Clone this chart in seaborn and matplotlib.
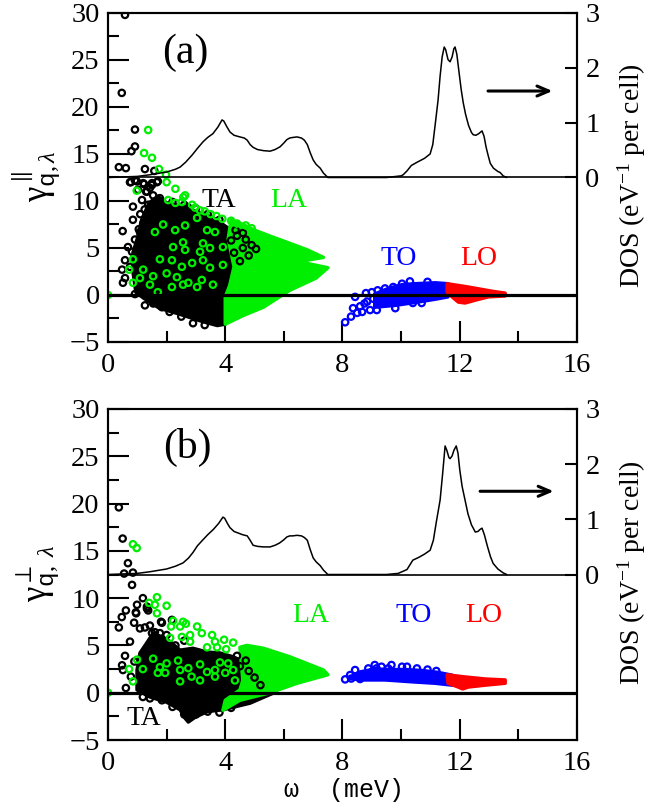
import numpy as np
import pandas as pd
import matplotlib
matplotlib.use("Agg")
import matplotlib.pyplot as plt
from matplotlib.ticker import MultipleLocator, NullLocator
import seaborn as sns

# ---------------- data ----------------
# phonon DOS (right axis), panel (a)
dos_a_w = [0.0, 0.5, 1.0, 1.43, 2.0, 2.3, 2.46, 2.65, 2.87, 3.05, 3.24, 3.4, 3.58, 3.75, 3.89,
           3.95, 4.05, 4.16, 4.3, 4.5, 4.65, 4.75, 4.85, 4.95, 5.1, 5.3, 5.53, 5.7, 5.87, 6.0,
           6.1, 6.2, 6.3, 6.45, 6.6, 6.7, 6.8, 6.9, 7.0, 7.1, 7.24, 7.35, 7.5, 8.5, 9.5, 10.0,
           10.07, 10.2, 10.35, 10.55, 10.8, 10.99, 11.08, 11.17, 11.26, 11.33, 11.4, 11.47,
           11.52, 11.6, 11.67, 11.74, 11.8, 11.84, 11.9, 11.98, 12.05, 12.12, 12.2, 12.3, 12.4,
           12.46, 12.55, 12.65, 12.76, 12.83, 12.9, 12.97, 13.04, 13.15, 13.3, 13.38, 13.48, 13.6]
dos_a_v = [0.0, 0.01, 0.02, 0.05, 0.1, 0.15, 0.19, 0.28, 0.41, 0.53, 0.65, 0.73, 0.8, 0.92, 1.05,
           1.03, 0.93, 0.83, 0.77, 0.74, 0.72, 0.68, 0.6, 0.55, 0.51, 0.49, 0.48, 0.51, 0.56, 0.63,
           0.69, 0.72, 0.73, 0.74, 0.72, 0.68, 0.6, 0.45, 0.32, 0.24, 0.17, 0.08, 0.0, 0.0, 0.0, 0.03,
           0.05, 0.12, 0.22, 0.28, 0.35, 0.43, 0.6, 1.0, 1.41, 1.85, 2.2, 2.38,
           2.33, 2.15, 2.11, 2.2, 2.35, 2.38, 2.25, 1.9, 1.6, 1.36, 1.15, 0.95, 0.82,
           0.78, 0.77, 0.8, 0.85, 0.75, 0.55, 0.4, 0.26, 0.17, 0.11, 0.09, 0.03, 0.0]
# panel (b)
dos_b_w = [0.0, 0.5, 1.0, 1.43, 2.0, 2.3, 2.56, 2.75, 2.9, 3.05, 3.24, 3.4, 3.6, 3.78, 3.92,
           3.98, 4.08, 4.16, 4.3, 4.6, 4.75, 4.85, 4.95, 5.1, 5.3, 5.53, 5.7, 5.85, 6.0,
           6.1, 6.2, 6.3, 6.45, 6.6, 6.7, 6.8, 6.9, 7.0, 7.1, 7.24, 7.35, 7.5, 8.5, 9.5, 9.9,
           10.2, 10.4, 10.6, 10.8, 10.99, 11.1, 11.2, 11.33, 11.42, 11.5, 11.56, 11.63, 11.67,
           11.74, 11.8, 11.88, 11.94, 12.0, 12.08, 12.18, 12.28, 12.4, 12.53, 12.62, 12.7,
           12.76, 12.84, 12.95, 13.05, 13.14, 13.3, 13.48, 13.6]
dos_b_v = [0.0, 0.01, 0.02, 0.05, 0.1, 0.15, 0.21, 0.3, 0.4, 0.52, 0.63, 0.72, 0.82, 0.93, 1.04,
           1.02, 0.92, 0.85, 0.78, 0.72, 0.7, 0.62, 0.53, 0.51, 0.5, 0.5, 0.53, 0.57, 0.63,
           0.68, 0.7, 0.7, 0.71, 0.7, 0.67, 0.62, 0.45, 0.3, 0.23, 0.16, 0.08, 0.0, 0.0, 0.0, 0.02,
           0.09, 0.26, 0.31, 0.37, 0.44, 0.62, 0.95, 1.35, 1.85, 2.33, 2.25, 2.12, 2.1,
           2.15, 2.25, 2.33, 2.2, 1.9, 1.6, 1.35, 1.1, 0.9, 0.77, 0.78, 0.82,
           0.84, 0.72, 0.5, 0.32, 0.2, 0.1, 0.03, 0.0]

# dense parts of the Grueneisen clouds (outlines), panel (a)
ta_a_x = [0.85, 0.95, 1.2, 1.75, 2.4, 3.2, 3.73, 4.0, 4.0, 4.15, 4.5, 4.95, 4.95, 4.5, 4.06,
          3.6, 3.15, 2.6, 2.0, 1.7, 1.4, 1.15, 1.0, 0.85]
ta_a_y = [2.5, 0.3, -0.3, -1.4, -2.0, -2.8, -3.25, -3.1, -0.2, 0.9, 2.5, 3.8, 4.8, 6.2, 7.2,
          8.2, 8.7, 9.4, 9.8, 10.5, 9.8, 8.0, 6.0, 4.5]
la_a_x = [4.0, 4.6, 5.3, 6.2, 7.1, 7.5, 6.5, 7.35, 6.8, 6.2, 5.5, 5.0, 4.6, 4.2, 4.1, 4.3,
          4.15, 4.0]
la_a_y = [-3.1, -2.2, -1.3, 0.5, 1.8, 2.9, 3.55, 4.0, 4.8, 5.5, 6.3, 6.9, 7.5, 8.0, 6.0, 3.0,
          1.0, -0.2]
to_a_x = [9.1, 9.8, 10.57, 11.16, 11.6, 11.6, 11.16, 10.48, 10.03, 9.56, 9.1]
to_a_y = [-1.3, -1.1, -0.75, -0.45, -0.2, 1.2, 1.3, 1.2, 1.1, 0.7, 0.1]
lo_a_x = [11.57, 12.29, 13.1, 13.55, 13.55, 12.97, 12.53, 12.18, 11.95, 11.74, 11.57]
lo_a_y = [1.2, 0.85, 0.4, 0.2, -0.1, -0.2, -0.55, -0.85, -0.75, -0.2, 0.3]

# scattered points, panel (a)
ta_a_px = [0.58, 0.47, 0.92, 0.92, 0.8, 0.37, 0.61, 1.26, 1.58, 0.78, 0.98, 1.23, 1.5, 1.67,
           1.3, 1.43, 0.75, 0.92, 1.2, 1.5, 1.7, 1.02, 1.33, 1.54, 1.16, 0.85, 1.37, 1.77, 2.0,
           2.35, 2.74, 0.85, 1.2, 1.54, 1.88, 0.5, 1.09, 0.92, 1.2, 0.58, 0.48, 0.58, 0.51,
           0.92, 1.26, 1.54, 1.84, 0.75, 0.82, 1.02, 0.68, 1.1, 2.2, 2.6, 3.0, 3.4,
           3.8, 1.05, 1.25, 0.95, 2.1, 2.5, 2.9, 3.3]
ta_a_py = [29.8, 21.5, 17.6, 15.8, 15.3, 13.6, 13.5, 13.4, 13.2, 12.0, 12.1, 11.8, 11.9, 12.0,
           11.0, 11.4, 12.0, 12.2, 11.9, 11.7, 12.1, 11.2, 11.0, 10.6, 10.1, 9.4, 9.6, 10.3, 9.4,
           9.0, 9.3, 8.0, 7.6, 8.3, 7.5, 6.8, 6.7, 5.9, 5.6, 3.7, 2.7, 1.8, 1.3,
           0.1, -1.1, -0.9, -1.3, 3.0, 4.6, 4.6, 5.1, 8.6, 9.9, 9.6, 9.2, 8.6,
           8.0, 7.0, 9.1, 3.5, -1.8, -2.3, -3.0, -3.2]
ta_a_topx = [4.3, 4.6, 4.8, 4.5, 4.9, 5.05, 4.2, 4.4, 4.7, 4.35, 4.6]
ta_a_topy = [4.5, 5.0, 4.2, 3.6, 5.3, 4.9, 5.8, 6.3, 5.9, 6.9, 6.6]
la_a_px = [1.37, 1.23, 1.5, 1.74, 1.98, 2.0, 2.3, 2.57, 0.98, 0.0, 0.72, 0.85, 0.85, 2.05,
           2.3, 2.52, 2.63, 2.87, 2.97, 3.14, 1.88, 1.6, 2.29, 2.63, 3.04, 3.38, 3.65, 2.56,
           3.24, 2.22, 2.63, 3.14, 3.48, 3.92, 1.77, 2.18, 2.52, 2.87, 3.24, 3.48, 3.92, 1.2,
           1.54, 2.0, 2.35, 2.74, 3.2, 3.58, 1.43, 1.7, 2.18, 2.56, 3.04, 1.09, 3.3, 3.5, 3.7,
           3.9, 4.2, 4.4, 4.7, 4.9]
la_a_py = [17.55, 15.1, 14.6, 13.4, 12.8, 12.0, 11.3, 10.4, 11.1, 0.0, 2.7, 3.8, 1.3, 10.1,
           9.8, 9.9, 10.6, 9.6, 9.3, 9.0, 7.5, 6.7, 6.9, 7.4, 8.2, 6.9, 6.7, 5.6,
           5.5, 5.1, 4.8, 4.6, 5.0, 5.1, 3.8, 3.7, 3.0, 3.4, 3.7, 2.9, 3.2, 2.7,
           2.0, 2.3, 1.9, 1.3, 1.6, 1.1, 1.1, 0.3, 0.85, 1.1, 0.85, 1.8, 8.9, 8.6, 8.4,
           8.1, 7.9, 7.6, 7.4, 7.1]
to_a_px = [8.09, 8.29, 8.36, 8.5, 8.67, 8.84, 8.8, 9.0, 8.43, 9.2, 9.45, 9.73, 10.03, 8.94,
           9.17, 9.8, 10.4, 10.7, 8.6, 8.75, 9.05, 9.3, 10.3, 10.9]
to_a_py = [-2.9, -2.3, -1.4, -1.9, -1.8, -0.7, 0.2, 0.3, -0.2, 0.5, 0.7, 0.85, 1.2, -1.6,
           -1.6, -1.4, -0.85, -0.85, -1.2, -0.9, -0.4, -0.2, 1.45, 1.4]

# dense parts, panel (b)
ta_b_x = [0.99, 1.43, 2.0, 2.46, 2.63, 2.74, 2.97, 3.38, 3.92, 4.85, 5.63, 5.0, 4.74, 4.27,
          3.82, 3.38, 2.9, 2.46, 2.12, 1.84, 1.54, 1.33, 1.09, 0.99]
ta_b_y = [0.3, -0.45, -1.0, -1.8, -2.7, -3.1, -2.6, -2.0, -1.8, -1.1, -0.05, 2.0, 3.1, 3.8,
          4.2, 4.3, 4.7, 4.5, 5.4, 5.9, 6.3, 5.3, 4.2, 2.4]
la_b_x = [3.92, 4.5, 5.53, 6.45, 7.5, 7.35, 6.2, 5.3, 4.74, 4.5, 4.6, 4.5, 4.0]
la_b_y = [-1.85, -0.8, 0.0, 1.0, 1.9, 2.4, 3.8, 4.7, 5.0, 4.8, 1.3, 0.3, -0.8]
to_b_x = [8.2, 8.6, 9.1, 9.7, 10.14, 10.7, 11.26, 11.74, 11.74, 11.16, 10.38, 9.45, 8.67]
to_b_y = [1.5, 2.2, 2.5, 2.45, 2.45, 2.35, 2.15, 1.85, 0.8, 1.0, 1.15, 1.35, 1.35]
lo_b_x = [11.57, 12.08, 12.87, 13.55, 13.55, 12.87, 12.29, 12.1, 11.95, 11.6]
lo_b_y = [1.9, 1.7, 1.45, 1.35, 1.0, 0.8, 0.6, 0.4, 0.6, 1.0]

# scattered points, panel (b)
ta_b_px = [0.37, 0.5, 0.68, 0.85, 0.55, 0.82, 1.19, 0.99, 1.33, 0.61, 0.95, 0.47, 0.96, 1.33,
           0.89, 0.37, 1.81, 1.09, 1.26, 1.43, 1.6, 2.0, 0.75, 0.58, 0.48, 0.51, 0.78, 0.61,
           1.19, 1.43, 1.84, 1.37, 1.5, 1.77, 1.84, 2.18, 2.3, 2.6, 1.2, 0.9, 2.2, 2.6, 3.0,
           3.4, 3.8, 4.2, 2.3]
ta_b_py = [19.6, 16.3, 13.7, 12.7, 12.6, 11.4, 10.0, 9.3, 8.9, 8.7, 8.5, 8.0, 8.4, 9.1,
           7.4, 6.9, 7.5, 6.8, 6.9, 7.1, 6.4, 6.1, 5.4, 3.9, 2.9, 2.4, 1.7, 0.5,
           -0.45, -0.6, -0.8, 8.7, 6.3, 6.3, 7.4, 7.7, 5.0, 5.5, 4.0, 3.3, -1.5, -2.3, -2.3,
           -2.0, -2.1, -1.6, -1.1]
ta_b_topx = [4.5, 4.8, 5.0, 4.7, 5.2, 4.4]
ta_b_topy = [2.8, 2.3, 1.6, 3.4, 0.8, 3.9]
la_b_px = [0.85, 0.98, 0.0, 1.4, 1.67, 1.6, 2.0, 1.67, 2.22, 2.56, 2.66, 2.15, 2.46, 3.04,
           2.12, 2.52, 2.8, 3.2, 2.8, 3.55, 3.65, 3.96, 4.27, 3.38, 3.72, 4.03, 0.99, 0.72,
           0.85, 1.19, 1.54, 1.77, 2.0, 2.39, 2.46, 2.74, 2.85, 3.14, 3.38, 3.65, 3.82, 3.65,
           4.0, 4.27, 4.33, 4.1, 1.95, 1.7, 2.46, 3.14]
la_b_py = [15.7, 15.3, 0.0, 9.5, 10.1, 9.3, 9.2, 8.4, 7.6, 7.5, 7.3, 7.0, 7.0, 7.0,
           5.8, 5.9, 6.1, 6.3, 5.4, 6.1, 5.4, 5.6, 5.3, 4.8, 4.8, 4.6, 3.5, 2.5,
           1.2, 2.5, 3.6, 2.7, 3.1, 3.4, 2.4, 2.6, 1.7, 3.0, 2.2, 2.4, 3.2, 1.7,
           2.1, 2.4, 1.3, 3.1, 2.1, 2.1, 1.2, 1.3]
to_b_px = [8.09, 8.26, 8.43, 8.49, 8.77, 8.88, 9.1, 9.16, 9.33, 9.56, 9.67, 10.03, 10.2,
           10.54, 8.3, 8.6, 9.0, 10.9, 11.2]
to_b_py = [1.41, 1.87, 2.4, 1.7, 1.87, 2.57, 2.93, 2.57, 2.75, 2.57, 2.93, 2.75, 2.75,
           2.57, 1.5, 1.45, 2.2, 2.45, 2.3]

GREEN = "#00ee00"
BLUE = "#0000ff"
RED = "#ff0000"

sns.set_theme(style="ticks")
plt.rcParams["font.family"] = ["Liberation Serif", "DejaVu Serif"]
plt.rcParams.update({
    "mathtext.fontset": "custom",
    "mathtext.rm": "Liberation Serif",
    "mathtext.it": "Liberation Serif:italic",
    "mathtext.tt": "Liberation Mono",
    "axes.linewidth": 1.5,
    "axes.edgecolor": "black",
    "axes.labelcolor": "black",
    "text.color": "black",
    "xtick.color": "black",
    "ytick.color": "black",
})

fig = plt.figure(figsize=(6.5, 8.08), dpi=100)
L, R = 108 / 650, 577 / 650
ax_a = fig.add_axes([L, 1 - 342 / 808, R - L, (342 - 13) / 808])
ax_b = fig.add_axes([L, 1 - 740 / 808, R - L, (740 - 409) / 808])

TICK_FS = 20.5


def pts(ax, xs, ys, color, z):
    sns.scatterplot(x=xs, y=ys, ax=ax, color=color, facecolor="none", edgecolor=color,
                    s=21, linewidth=1.6, marker="o", zorder=z, legend=False)


def cloud(ax, xs, ys, color, z):
    ax.fill(xs, ys, facecolor=color, edgecolor=color, linewidth=2.5, zorder=z,
            joinstyle="round")


def panel(ax, tag, dw, dv, ta, la, to, lo, tap, lap, top, extra, labels, arrow, ylab):
    ax.set_xlim(0, 16)
    ax.set_ylim(-5, 30)
    cloud(ax, ta[0], ta[1], "black", 2)
    pts(ax, tap[0], tap[1], "black", 2.2)
    cloud(ax, la[0], la[1], GREEN, 3)
    if extra is not None:
        pts(ax, extra[0], extra[1], "black", 3.1)
    pts(ax, lap[0], lap[1], GREEN, 3.2)
    cloud(ax, to[0], to[1], BLUE, 3)
    pts(ax, top[0], top[1], BLUE, 3.2)
    cloud(ax, lo[0], lo[1], RED, 3.4)
    ax.axhline(0, color="black", lw=2.3, zorder=6)
    ax.axhline(12.5, color="black", lw=1.2, zorder=6)

    ax.xaxis.set_major_locator(MultipleLocator(4))
    ax.xaxis.set_minor_locator(MultipleLocator(2))
    ax.yaxis.set_major_locator(MultipleLocator(5))
    ax.yaxis.set_minor_locator(MultipleLocator(2.5))
    ax.tick_params(which="major", direction="in", length=15, width=1.5,
                   labelsize=TICK_FS, top=False, right=False, pad=6)
    ax.tick_params(which="minor", direction="in", length=8, width=1.5,
                   top=False, right=False)
    ax.tick_params(axis="x", pad=8)

    ax2 = ax.twinx()
    ax2.set_ylim(-3, 3)
    ax2.set_yticks([0, 1, 2, 3])
    ax2.yaxis.set_minor_locator(NullLocator())
    ax2.tick_params(direction="in", length=9, width=1.5, labelsize=TICK_FS, pad=6)
    sns.lineplot(x=dw, y=dv, ax=ax2, color="black", lw=1.1, sort=False, estimator=None)
    ax2.set_ylabel("DOS (eV$^{-1}$ per cell)", fontsize=20)
    ax2.yaxis.set_label_coords(1.117, 0.505)
    ax2.yaxis.label.set_va("center")
    ax2.set_zorder(ax.get_zorder() + 1)
    ax2.patch.set_visible(False)

    ax.text(tag[1], tag[2], tag[0], fontsize=30, ha="center", va="baseline")
    for txt, x, y, c in labels:
        ax.text(x, y, txt, color=c, fontsize=20, ha="center", va="baseline", zorder=7)
    ax.annotate("", xy=(arrow[1], arrow[2]), xytext=(arrow[0], arrow[2]),
                arrowprops=dict(arrowstyle="->,head_length=0.7,head_width=0.3",
                                color="black", lw=2.2))
    ax.set_ylabel(ylab, fontsize=25)
    ax.yaxis.set_label_coords(-0.15, 0.505)
    ax.yaxis.label.set_va("center")
    return ax2


panel(ax_a, ("(a)", 2.63, 24.7), dos_a_w, dos_a_v,
      (ta_a_x, ta_a_y), (la_a_x, la_a_y), (to_a_x, to_a_y), (lo_a_x, lo_a_y),
      (ta_a_px, ta_a_py), (la_a_px, la_a_py), (to_a_px, to_a_py), (ta_a_topx, ta_a_topy),
      [("TA", 3.77, 9.36, "black"), ("LA", 6.18, 9.36, GREEN),
       ("TO", 9.93, 3.19, BLUE), ("LO", 12.66, 3.19, RED)],
      (12.87, 15.26, 21.7), r"$\mathrm{\gamma}^{\parallel}_{\mathtt{q},\lambda}$")

panel(ax_b, ("(b)", 2.7, 24.8), dos_b_w, dos_b_v,
      (ta_b_x, ta_b_y), (la_b_x, la_b_y), (to_b_x, to_b_y), (lo_b_x, lo_b_y),
      (ta_b_px, ta_b_py), (la_b_px, la_b_py), (to_b_px, to_b_py), (ta_b_topx, ta_b_topy),
      [("LA", 6.93, 7.48, GREEN), ("TO", 10.44, 7.48, BLUE),
       ("LO", 12.83, 7.48, RED), ("TA", 1.21, -3.41, "black")],
      (12.6, 15.3, 21.3), r"$\mathrm{\gamma}^{\perp}_{\mathtt{q},\ \lambda}$")

ax_b.set_xlabel("ω  (meV)", fontsize=18, family=["Liberation Mono", "DejaVu Sans Mono"])
ax_b.xaxis.set_label_coords(0.503, -0.151)
ax_b.xaxis.label.set_va("center")

fig.savefig("out.png", dpi=100)
